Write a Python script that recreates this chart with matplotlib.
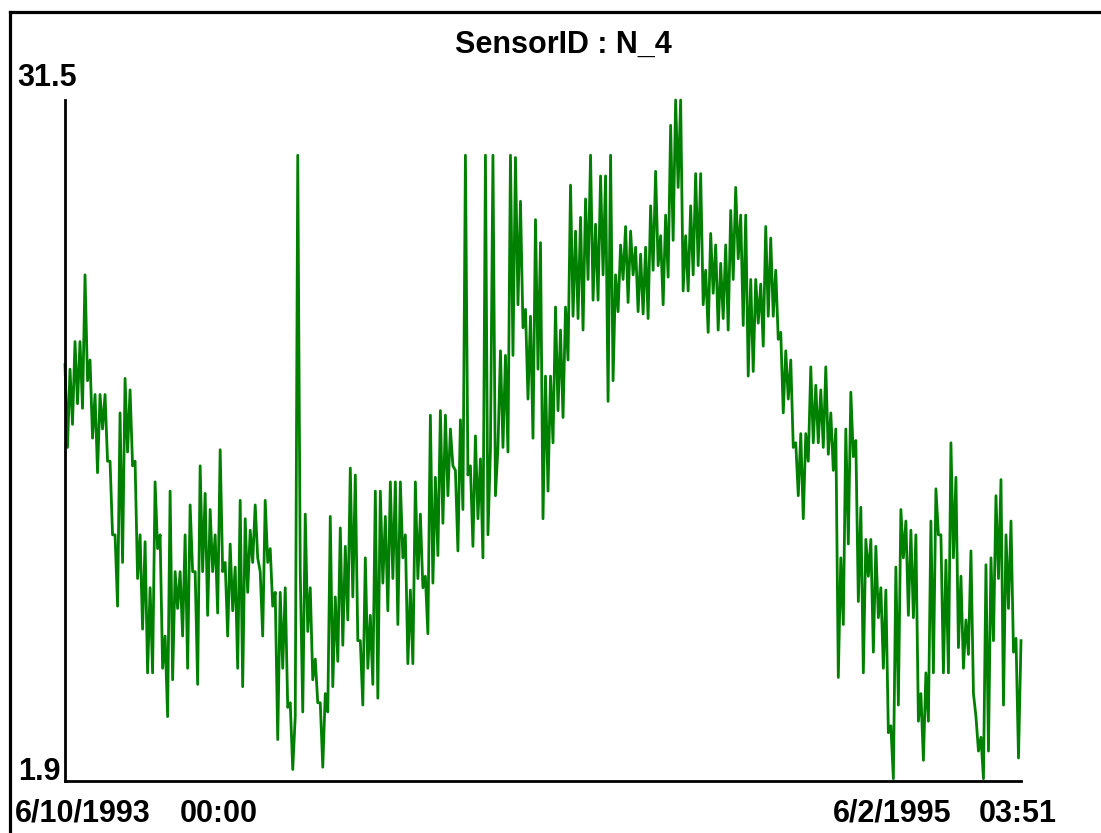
import numpy as np
import matplotlib
matplotlib.use("Agg")
import matplotlib.pyplot as plt
from matplotlib.lines import Line2D

# Sensor readings, in order (first part: Jun 1993 ...)
readings_a = [20.0, 16.4, 19.8, 17.4, 21.0, 18.3, 21.0, 18.1, 23.9, 19.3,
              20.2, 16.8, 18.7, 15.3, 18.7, 17.2, 18.7, 15.8, 15.8, 12.6,
              12.6, 9.5, 17.9, 11.4, 19.4, 16.2, 18.9, 15.6, 15.8, 10.7,
              12.6, 8.5, 12.3, 6.6, 10.3, 6.6, 14.9, 12.0, 12.6, 6.8,
              8.2, 4.7, 14.5, 6.3, 11.0, 9.4, 11.0, 8.2, 12.6, 6.8,
              13.9, 11.0, 11.0, 6.1, 15.6, 11.0, 14.4, 9.1, 13.7, 11.0,
              12.6, 9.2, 16.3, 11.0, 11.4, 8.2, 12.2, 9.3, 11.2, 6.8,
              14.1, 6.0, 13.3, 10.1, 12.8, 11.4, 13.9, 11.6, 11.0, 8.2,
              14.1, 11.4, 12.0, 9.5, 10.1, 3.7, 10.1, 6.8, 10.3, 5.1,
              5.3, 2.4, 4.7, 29.1, 11.0, 4.9, 13.5, 8.4]
readings_b = [10.3, 6.3, 7.2, 5.3, 5.3, 2.5, 5.7, 4.9, 13.4, 6.0,
              9.9, 7.1, 12.9, 7.8, 12.1, 8.9, 15.5, 9.9, 15.2, 8.0,
              8.0, 5.2, 11.6, 6.8, 9.1, 6.1, 14.5, 5.5, 14.5, 10.5,
              13.4, 9.3, 14.9, 10.7, 14.9, 8.7, 14.9, 11.6, 12.6, 7.0,
              10.2, 7.0, 14.9, 10.7, 13.5, 10.3, 10.8, 8.3, 17.8, 10.5,
              15.1, 11.7, 18.0, 13.1, 17.8, 14.3, 17.2, 15.6, 15.4, 11.9,
              17.6, 13.7, 29.1, 15.2, 15.6, 12.1, 16.9, 13.3, 15.9, 11.6,
              29.1, 12.6, 16.3, 29.1, 14.3, 16.4, 20.6, 16.4, 20.4, 16.2,
              29.1, 20.4, 29.0, 22.6, 27.1, 21.6, 22.4, 18.5, 22.1, 16.8,
              26.3, 19.8, 25.3, 13.3, 19.5, 14.5]
readings_c = [19.5, 16.6, 22.5, 18.0, 21.5, 17.7, 22.5, 20.2, 27.8, 22.1,
              25.8, 22.0, 26.4, 21.5, 27.2, 23.7, 29.1, 22.8, 26.1, 22.8,
              28.2, 23.9, 28.2, 18.4, 29.1, 19.3, 23.9, 22.3, 25.2, 23.7,
              26.0, 22.7, 25.8, 23.9, 25.1, 22.3, 24.8, 22.2, 25.1, 22.0,
              26.9, 24.1, 28.4, 24.3, 25.6, 22.6, 26.5, 23.8, 30.4, 25.4,
              31.5, 27.7, 31.5, 23.2, 25.6, 23.2, 26.9, 23.9, 28.3, 24.3,
              28.3, 22.6, 24.1, 21.4, 25.7, 23.1, 25.2, 21.5, 24.4, 22.0,
              25.2, 21.5, 26.7, 23.7, 27.7, 24.6, 26.5, 21.7, 26.5, 19.5,
              23.7, 19.7, 23.7, 21.8, 23.5, 20.8, 26.0, 22.1, 25.5, 22.1,
              24.1, 21.1, 21.4, 17.9, 20.6, 18.5]
readings_d = [20.2, 16.4, 16.6, 14.3, 17.0, 13.3, 17.0, 15.8, 19.9, 16.6,
              19.1, 16.6, 18.9, 16.4, 19.9, 16.1, 17.9, 15.4, 17.2, 6.4,
              11.6, 8.7, 17.2, 12.2, 18.8, 16.0, 16.7, 9.7, 13.8, 6.6,
              12.4, 10.8, 12.4, 7.5, 12.1, 9.0, 10.3, 6.8, 10.2, 4.0,
              4.3, 2.0, 11.2, 5.2, 13.7, 11.6, 13.2, 9.1, 12.8, 9.0,
              12.6, 4.5, 5.7, 2.8, 6.6, 4.5, 13.2, 6.6, 14.6, 12.6,
              12.6, 6.6, 11.5, 6.6, 16.6, 11.6, 15.1, 7.7, 10.8, 6.8,
              8.9, 7.4, 11.9, 5.7, 4.7, 3.2, 3.8, 2.0, 11.3, 3.2,
              11.6, 8.0, 14.3, 10.7, 15.0, 5.2, 12.6, 9.4, 13.2, 7.5,
              8.1, 2.9, 8.0]

readings = readings_a + readings_b + readings_c + readings_d

title = "SensorID : N_4"
y_max_label = "31.5"
y_min_label = "1.9"
start_date, start_time = "6/10/1993", "00:00"
end_date, end_time = "6/2/1995", "03:51"
y_min, y_max = 1.9, 31.5

W, H = 1101, 833
fig = plt.figure(figsize=(W / 100, H / 100), dpi=100)
fig.patch.set_facecolor("white")

# plot area in pixels: x 65..1021, y 100..781
ax = fig.add_axes([65 / W, 1 - 781 / H, (1021 - 65) / W, (781 - 100) / H])
x = np.arange(len(readings))
ax.plot(x, readings, color="#008000", lw=2.0, clip_on=False)
ax.set_xlim(0, len(readings) - 1)
ax.set_ylim(y_min, y_max)
ax.set_xticks([])
ax.set_yticks([])
for side in ("top", "right"):
    ax.spines[side].set_visible(False)
for side in ("left", "bottom"):
    ax.spines[side].set_linewidth(2.0)
    ax.spines[side].set_color("black")

# frame round the figure (left and top edges only are visible)
fig.add_artist(Line2D([10 / W, 10 / W], [0, 1 - 11.5 / H],
                      transform=fig.transFigure, color="black", lw=2.3))
fig.add_artist(Line2D([10 / W, 1], [1 - 11.5 / H, 1 - 11.5 / H],
                      transform=fig.transFigure, color="black", lw=2.3))

font = dict(family="Liberation Sans", weight="bold", size=22, color="black")


def put(px, py, s, ha="left"):
    fig.text(px / W, 1 - py / H, s, ha=ha, va="baseline", **font)


put(563, 53, title, ha="center")
put(17, 86, y_max_label)
put(18, 780, y_min_label)
put(15, 822, start_date)
put(180, 822, start_time)
put(833, 822, end_date)
put(979, 822, end_time)

fig.savefig("out.png", dpi=100)
